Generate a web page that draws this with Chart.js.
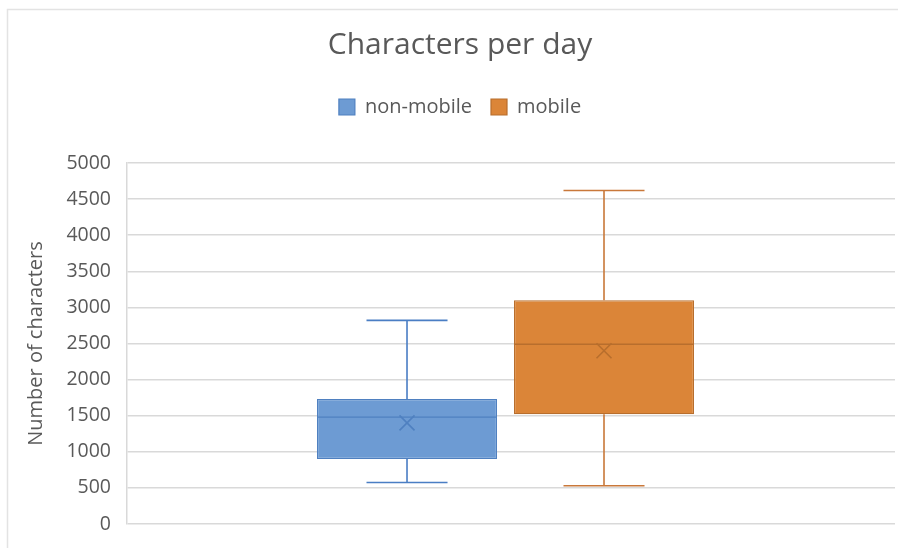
<!DOCTYPE html>
<html>
<head>
<meta charset="utf-8">
<script src="https://cdn.jsdelivr.net/npm/chart.js@4/dist/chart.umd.min.js"></script>
<style>
  html, body { margin: 0; padding: 0; background: #ffffff; }
  #wrap { width: 898px; height: 548px; position: relative; }
</style>
</head>
<body>
<div id="wrap"><canvas id="chart" width="898" height="548"></canvas></div>
<script>
// Box-plot statistics for each group (characters per day)
const categories   = ['non-mobile', 'mobile'];
const minValues    = [575, 530];
const q1Values     = [900, 1520];
const medianValues = [1480, 2490];
const q3Values     = [1730, 3100];
const maxValues    = [2820, 4620];
const meanValues   = [1400, 2400];

const fillColors    = ['#6d9bd3', '#db8538'];
const edgeColors    = ['#4f80c0', '#b86e2d'];
const whiskerColors = ['#4a7ec4', '#c9783a'];

const TEXT = '#595959';
const GRID = '#d9d9d9';

// Floating bars from Q1 to Q3 form the boxes
const datasets = categories.map((name, i) => ({
  label: name,
  data: [[q1Values[i], q3Values[i]]],
  backgroundColor: fillColors[i],
  borderColor: edgeColors[i],
  borderWidth: 1.2,
  borderSkipped: false,
  categoryPercentage: 0.513,
  barPercentage: 0.914
}));

// Light frame around the chart
const framePlugin = {
  id: 'frame',
  beforeDraw(chart) {
    const ctx = chart.ctx;
    ctx.save();
    ctx.fillStyle = '#ffffff';
    ctx.fillRect(0, 0, chart.width, chart.height);
    ctx.strokeStyle = '#e3e3e3';
    ctx.lineWidth = 1.5;
    ctx.strokeRect(7.5, 9.5, chart.width + 20, chart.height + 20);
    ctx.restore();
  }
};

// Empty space between the legend and the plot area
const legendGapPlugin = {
  id: 'legendGap',
  beforeInit(chart) {
    Chart.layouts.addBox(chart, {
      position: 'top',
      weight: 100,
      fullSize: true,
      options: {},
      isHorizontal() { return true; },
      update(maxWidth) { this.width = maxWidth; this.height = 36; },
      draw() {}
    });
  }
};

// Whiskers, median line and mean marker for each box
const boxPlotPlugin = {
  id: 'boxPlot',
  afterDatasetsDraw(chart) {
    const ctx = chart.ctx;
    const y = chart.scales.y;
    chart.data.datasets.forEach((ds, i) => {
      const el = chart.getDatasetMeta(i).data[0];
      if (!el) return;
      const cx = el.x;
      const half = el.width / 2;
      const cap = el.width * 0.225;
      const yMin = y.getPixelForValue(minValues[i]);
      const yQ1 = y.getPixelForValue(q1Values[i]);
      const yMed = y.getPixelForValue(medianValues[i]);
      const yQ3 = y.getPixelForValue(q3Values[i]);
      const yMax = y.getPixelForValue(maxValues[i]);
      const yMean = y.getPixelForValue(meanValues[i]);
      ctx.save();
      ctx.strokeStyle = whiskerColors[i];
      ctx.lineWidth = 1.6;
      ctx.beginPath();
      ctx.moveTo(cx, yQ3); ctx.lineTo(cx, yMax);
      ctx.moveTo(cx - cap, yMax); ctx.lineTo(cx + cap, yMax);
      ctx.moveTo(cx, yQ1); ctx.lineTo(cx, yMin);
      ctx.moveTo(cx - cap, yMin); ctx.lineTo(cx + cap, yMin);
      ctx.stroke();
      ctx.strokeStyle = edgeColors[i];
      ctx.lineWidth = 1.4;
      ctx.beginPath();
      ctx.moveTo(cx - half, yMed); ctx.lineTo(cx + half, yMed);
      ctx.stroke();
      const m = 7.5;
      ctx.lineWidth = 1.6;
      ctx.beginPath();
      ctx.moveTo(cx - m, yMean - m); ctx.lineTo(cx + m, yMean + m);
      ctx.moveTo(cx - m, yMean + m); ctx.lineTo(cx + m, yMean - m);
      ctx.stroke();
      ctx.restore();
    });
  }
};

new Chart(document.getElementById('chart'), {
  type: 'bar',
  data: { labels: [0], datasets },
  plugins: [framePlugin, legendGapPlugin, boxPlotPlugin],
  options: {
    responsive: false,
    animation: false,
    layout: { padding: { top: 0, left: 25, right: 3, bottom: 24 } },
    plugins: {
      tooltip: { enabled: false },
      title: {
        display: true,
        text: 'Characters per day',
        color: TEXT,
        font: { family: 'Open Sans', size: 30, weight: 'normal' },
        padding: { top: 27, bottom: 15 }
      },
      legend: {
        display: true,
        position: 'top',
        labels: {
          color: TEXT,
          font: { family: 'Open Sans', size: 20 },
          boxWidth: 16,
          boxHeight: 16,
          padding: 19
        }
      }
    },
    scales: {
      // The single group sits slightly left of the plot centre
      x: {
        type: 'linear',
        display: false,
        min: -0.9857,
        max: 1.0143,
        afterBuildTicks(scale) { scale.ticks = []; }
      },
      y: {
        min: 0,
        max: 5000,
        ticks: {
          stepSize: 500,
          color: TEXT,
          font: { family: 'Open Sans', size: 19.5 },
          padding: 12,
          callback: (v) => String(v)
        },
        grid: {
          color: GRID,
          lineWidth: 1.5,
          drawTicks: true,
          tickLength: 4,
          tickColor: 'rgba(0,0,0,0)'
        },
        border: { display: true, color: GRID, width: 1.5 },
        title: {
          display: true,
          text: 'Number of characters',
          color: TEXT,
          font: { family: 'Open Sans', size: 20 },
          padding: { top: -1, bottom: 0 }
        },
        afterFit(scale) { scale.width = 102; }
      }
    }
  }
});
</script>
</body>
</html>
